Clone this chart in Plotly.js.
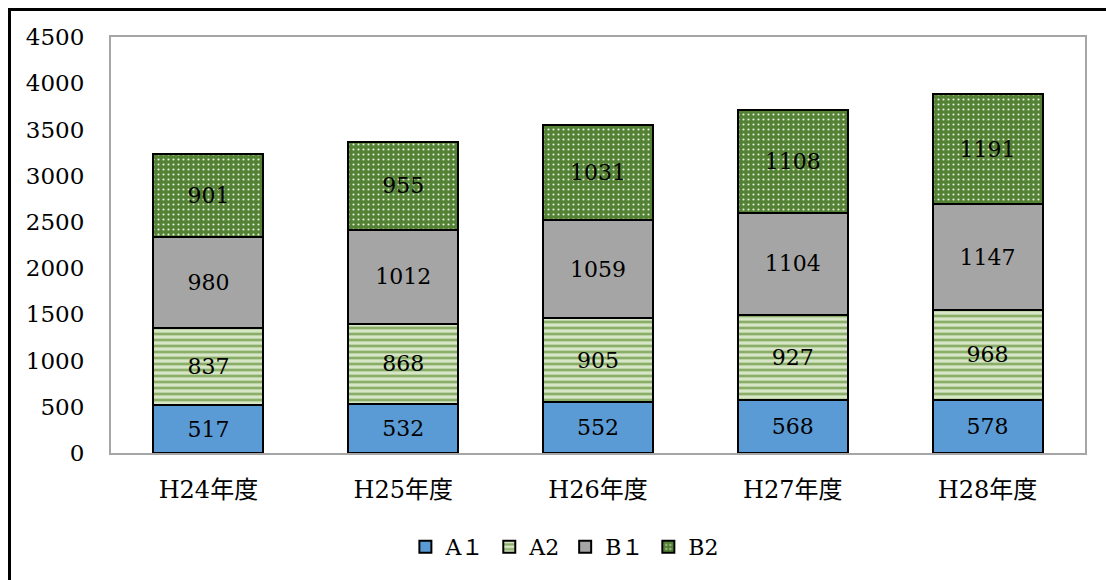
<!DOCTYPE html>
<html>
<head>
<meta charset="utf-8">
<script src="https://cdn.plot.ly/plotly-3.0.1.min.js"></script>
<style>
  html, body { margin: 0; padding: 0; background: #ffffff; }
  #wrap { position: relative; width: 1106px; height: 580px; overflow: hidden; }
  #chart { width: 1106px; height: 580px; }
  #frame {
    position: absolute; left: 8px; top: 8px; width: 1200px; height: 700px;
    border-left: 3px solid #000; border-top: 3px solid #000;
    pointer-events: none;
  }
</style>
</head>
<body>
<div id="wrap">
  <div id="chart"></div>
  <div id="frame"></div>
</div>
<script>
// Fiscal years
const years = ["H24年度", "H25年度", "H26年度", "H27年度", "H28年度"];

// Series values
const a1 = [517, 532, 552, 568, 578];
const a2 = [837, 868, 905, 927, 968];
const b1 = [980, 1012, 1059, 1104, 1147];
const b2 = [901, 955, 1031, 1108, 1191];

// Axis ticks
const yTicks = [0, 500, 1000, 1500, 2000, 2500, 3000, 3500, 4000, 4500];

const FONT = "'DejaVu Serif', 'Liberation Serif', 'Noto Sans CJK JP', serif";

function series(name, values, marker) {
  return {
    type: "bar",
    name: name,
    x: years,
    y: values,
    text: values.map(String),
    texttemplate: "%{text}",
    textposition: "inside",
    insidetextanchor: "middle",
    textangle: 0,
    constraintext: "none",
    textfont: { family: FONT, size: 22, color: "#000000" },
    hoverinfo: "x+y+name",
    marker: Object.assign({ line: { color: "#000000", width: 2 } }, marker)
  };
}

const data = [
  series("A１", a1, { color: "#5b9bd5" }),
  series("A2", a2, {
    color: "#c9ddb6",
    pattern: { shape: "-", fgcolor: "#8aad67", bgcolor: "#d6e6c6", size: 6, solidity: 0.45 }
  }),
  series("B１", b1, { color: "#a5a5a5" }),
  series("B2", b2, {
    color: "#548235",
    pattern: { shape: ".", fgcolor: "#e8f0e0", bgcolor: "#548235", size: 5, solidity: 0.15 }
  })
];

const layout = {
  width: 1106,
  height: 580,
  margin: { l: 111, r: 21, t: 37, b: 127 },
  paper_bgcolor: "#ffffff",
  plot_bgcolor: "#ffffff",
  barmode: "stack",
  bargap: 0.435,
  font: { family: FONT, size: 22, color: "#000000" },
  xaxis: {
    showline: true,
    mirror: true,
    linecolor: "#a6a6a6",
    linewidth: 2,
    ticks: "",
    ticklabelstandoff: 14,
    tickfont: { family: FONT, size: 24, color: "#000000" },
    fixedrange: true
  },
  yaxis: {
    range: [0, 4500],
    tickvals: yTicks,
    ticktext: yTicks.map(String),
    showgrid: false,
    zeroline: false,
    showline: true,
    mirror: true,
    linecolor: "#a6a6a6",
    linewidth: 2,
    ticks: "",
    ticklabelstandoff: 20,
    tickfont: { family: FONT, size: 23, color: "#000000" },
    fixedrange: true
  },
  legend: {
    orientation: "h",
    x: 0.466,
    xanchor: "center",
    y: -0.226,
    yanchor: "middle",
    traceorder: "normal",
    font: { family: FONT, size: 22, color: "#000000" },
    itemwidth: 30
  },
  showlegend: true
};

Plotly.newPlot("chart", data, layout, { displayModeBar: false, staticPlot: true });
</script>
</body>
</html>
